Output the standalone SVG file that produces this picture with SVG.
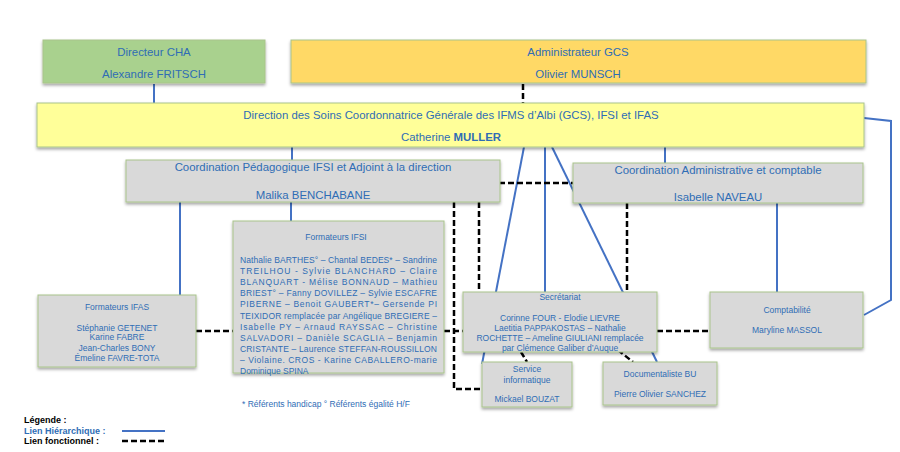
<svg xmlns="http://www.w3.org/2000/svg" width="900" height="452" viewBox="0 0 900 452">
<style>
text{font-family:"Liberation Sans",Arial,sans-serif;fill:#2f6db5;text-anchor:middle}
.t11{font-size:11.4px}
.t8{font-size:8.5px}
.box{stroke:#a9c48b;stroke-width:1;filter:url(#sh)}
.gray{fill:#d9d9d9}
.h{stroke:#4472c4;stroke-width:2;fill:none}
.f{stroke:#000;stroke-width:2.5;stroke-dasharray:6,3;fill:none}
.j{text-anchor:start;font-size:8.5px}
.leg{text-anchor:start;font-size:9px;font-weight:bold}
.blk{fill:#000}
</style>
<defs>
<filter id="sh" x="-5%" y="-10%" width="110%" height="130%">
<feDropShadow dx="0" dy="2" stdDeviation="1.5" flood-color="#000" flood-opacity="0.35"/>
</filter>
</defs>
<rect width="900" height="452" fill="#fff"/>
<g id="connectors">
<line class="h" x1="154" y1="84" x2="154" y2="103"/>
<line class="f" x1="523" y1="84" x2="523" y2="103"/>
<line class="h" x1="292" y1="147" x2="292" y2="160"/>
<line class="h" x1="665" y1="147" x2="665" y2="163"/>
<line class="h" x1="180" y1="202" x2="180" y2="295"/>
<line class="h" x1="291" y1="202" x2="291" y2="221"/>
<polyline class="h" points="864,118 891,121 891,300 864,315"/>
<line class="h" x1="777" y1="203" x2="777" y2="292"/>
<line class="h" x1="524" y1="147" x2="482" y2="364"/>
<line class="h" x1="545" y1="147" x2="545" y2="292"/>
<line class="h" x1="552" y1="147" x2="657" y2="362"/>
<line class="f" x1="499" y1="183" x2="573" y2="183"/>
<polyline class="f" points="454,202 454,389 481,389"/>
<line class="f" x1="479" y1="202" x2="479" y2="292"/>
<line class="f" x1="627" y1="203" x2="627" y2="292"/>
<line class="f" x1="196" y1="331" x2="233" y2="331"/>
<line class="f" x1="444" y1="331" x2="463" y2="331"/>
<line class="f" x1="657" y1="331" x2="710" y2="331"/>
<line class="f" x1="521" y1="352" x2="527" y2="362"/>
<line class="f" x1="618" y1="350" x2="633" y2="362"/>
</g>
<g id="directeur-cha">
<rect class="box" x="43" y="40" width="222" height="43" fill="#a9d18e"/>
<text class="t11" x="154" y="56">Directeur CHA</text>
<text class="t11" x="154" y="78">Alexandre FRITSCH</text>
</g>
<g id="administrateur-gcs">
<rect class="box" x="291" y="40" width="575" height="43" fill="#ffd966"/>
<text class="t11" x="578" y="56">Administrateur GCS</text>
<text class="t11" x="578" y="78">Olivier MUNSCH</text>
</g>
<g id="direction">
<rect class="box" x="37" y="103" width="827" height="44" fill="#ffff99"/>
<text class="t11" x="451" y="119">Direction des Soins Coordonnatrice Générale des IFMS d’Albi (GCS),  IFSI et IFAS</text>
<text class="t11" x="451" y="141">Catherine <tspan font-weight="bold">MULLER</tspan></text>
</g>
<g id="coord-pedagogique">
<rect class="box gray" x="126" y="160" width="374" height="42"/>
<text class="t11" x="313" y="171">Coordination Pédagogique IFSI et Adjoint à la direction</text>
<text class="t11" x="313" y="199">Malika BENCHABANE</text>
</g>
<g id="coord-administrative">
<rect class="box gray" x="573" y="163" width="290" height="40"/>
<text class="t11" x="718" y="174">Coordination Administrative et comptable</text>
<text class="t11" x="718" y="201">Isabelle NAVEAU</text>
</g>
<g id="formateurs-ifsi">
<rect class="box gray" x="233" y="221" width="211" height="152"/>
<text class="t8" x="336" y="240">Formateurs IFSI</text>
<text class="j" x="240" y="263" textLength="197" lengthAdjust="spacing">Nathalie BARTHES° – Chantal BEDES* – Sandrine</text>
<text class="j" x="240" y="274" textLength="197" lengthAdjust="spacing">TREILHOU  -  Sylvie  BLANCHARD  –  Claire</text>
<text class="j" x="240" y="285" textLength="197" lengthAdjust="spacing">BLANQUART   - Mélise  BONNAUD  –  Mathieu</text>
<text class="j" x="240" y="296" textLength="197" lengthAdjust="spacing">BRIEST° – Fanny DOVILLEZ – Sylvie ESCAFRE</text>
<text class="j" x="240" y="307" textLength="197" lengthAdjust="spacing">PIBERNE  –  Benoit  GAUBERT*–  Gersende  PI</text>
<text class="j" x="240" y="319" textLength="197" lengthAdjust="spacing">TEIXIDOR remplacée par Angélique BREGIERE –</text>
<text class="j" x="240" y="330" textLength="197" lengthAdjust="spacing">Isabelle  PY  –  Arnaud  RAYSSAC  –  Christine</text>
<text class="j" x="240" y="341" textLength="197" lengthAdjust="spacing">SALVADORI  –  Danièle  SCAGLIA  –  Benjamin</text>
<text class="j" x="240" y="352" textLength="197" lengthAdjust="spacing">CRISTANTE – Laurence STEFFAN-ROUSSILLON</text>
<text class="j" x="240" y="363" textLength="197" lengthAdjust="spacing">–  Violaine.  CROS  -  Karine  CABALLERO-marie</text>
<text class="j" x="240" y="374">Dominique SPINA</text>
</g>
<g id="footnote">
<text class="t8" x="242" y="407" style="text-anchor:start">* Référents handicap ° Référents égalité H/F</text>
</g>
<g id="formateurs-ifas">
<rect class="box gray" x="38" y="295" width="158" height="72"/>
<text class="t8" x="117" y="310">Formateurs IFAS</text>
<text class="t8" x="117" y="331">Stéphanie GETENET</text>
<text class="t8" x="117" y="340">Karine FABRE</text>
<text class="t8" x="117" y="351">Jean-Charles BONY</text>
<text class="t8" x="117" y="361">Émeline FAVRE-TOTA</text>
</g>
<g id="secretariat">
<rect class="box gray" x="463" y="292" width="194" height="60"/>
<text class="t8" x="560" y="300">Secrétariat</text>
<text class="t8" x="560" y="321">Corinne FOUR  -  Elodie LIEVRE</text>
<text class="t8" x="560" y="331">Laetitia PAPPAKOSTAS – Nathalie</text>
<text class="t8" x="560" y="341">ROCHETTE – Ameline GIULIANI remplacée</text>
<text class="t8" x="560" y="351">par Clémence Galiber d’Auque</text>
</g>
<g id="service-informatique">
<rect class="box gray" x="482" y="362" width="90" height="45"/>
<text class="t8" x="527" y="372">Service</text>
<text class="t8" x="527" y="383">informatique</text>
<text class="t8" x="527" y="402">Mickael BOUZAT</text>
</g>
<g id="documentaliste">
<rect class="box gray" x="603" y="362" width="114" height="43"/>
<text class="t8" x="660" y="377">Documentaliste BU</text>
<text class="t8" x="660" y="397">Pierre Olivier SANCHEZ</text>
</g>
<g id="comptabilite">
<rect class="box gray" x="710" y="292" width="153" height="56"/>
<text class="t8" x="787" y="313">Comptabilité</text>
<text class="t8" x="787" y="333">Maryline MASSOL</text>
</g>
<g id="legend">
<text class="leg blk" x="24" y="423">Légende :</text>
<text class="leg" x="24" y="434">Lien Hiérarchique :</text>
<text class="leg blk" x="24" y="444">Lien fonctionnel :</text>
<line class="h" x1="122" y1="431" x2="165" y2="431"/>
<line class="f" x1="122" y1="441" x2="165" y2="441"/>
</g>
</svg>
